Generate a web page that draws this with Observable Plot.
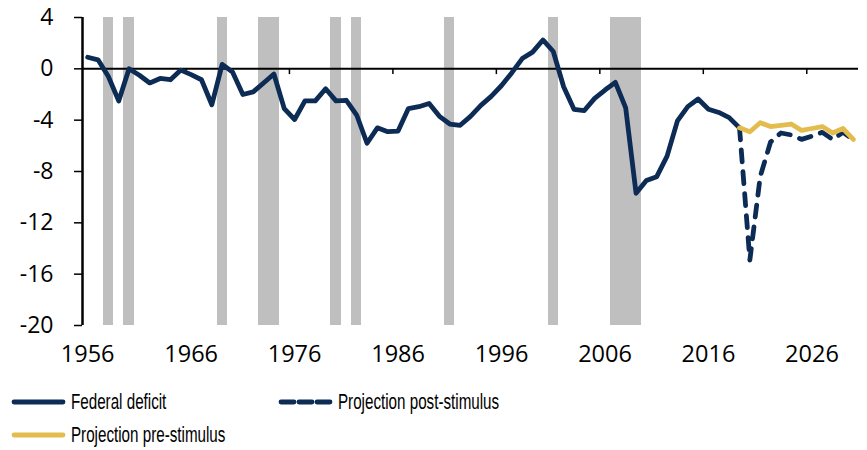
<!DOCTYPE html>
<html><head><meta charset="utf-8">
<script src="https://cdn.jsdelivr.net/npm/d3@7"></script>
<script src="https://cdn.jsdelivr.net/npm/@observablehq/plot@0.6"></script>
<style>
body{margin:0;background:#fff;}
#legend{display:grid;grid-template-columns:267px auto;padding-left:11px;margin-top:10px;font-family:"Liberation Sans","Arial",sans-serif;font-size:22px;color:#000;}
.item{display:flex;align-items:center;height:33px;white-space:nowrap;}
.item svg{margin-right:5px;flex:none;}
.item span{display:inline-block;transform:scaleX(0.69);transform-origin:0 50%;}
</style></head><body><div id="chart"></div><div id="legend"></div>
<script>
const histYears = [1956,1957,1958,1959,1960,1961,1962,1963,1964,1965,1966,1967,1968,1969,1970,1971,1972,1973,1974,1975,1976,1977,1978,1979,1980,1981,1982,1983,1984,1985,1986,1987,1988,1989,1990,1991,1992,1993,1994,1995,1996,1997,1998,1999,2000,2001,2002,2003,2004,2005,2006,2007,2008,2009,2010,2011,2012,2013,2014,2015,2016,2017,2018,2019];
const federalDeficit = [0.9,0.7,-0.6,-2.5,0.0,-0.5,-1.1,-0.75,-0.85,-0.1,-0.45,-0.85,-2.8,0.35,-0.25,-2.0,-1.8,-1.1,-0.4,-3.1,-3.95,-2.5,-2.5,-1.55,-2.5,-2.45,-3.6,-5.8,-4.6,-4.9,-4.85,-3.1,-2.95,-2.7,-3.7,-4.3,-4.4,-3.7,-2.85,-2.15,-1.3,-0.3,0.8,1.3,2.25,1.35,-1.4,-3.15,-3.25,-2.3,-1.65,-1.05,-3.05,-9.7,-8.7,-8.4,-6.8,-4.05,-2.95,-2.35,-3.15,-3.4,-3.8,-4.6];
const projYears = [2019,2020,2021,2022,2023,2024,2025,2026,2027,2028,2029,2030];
const postStimulus = [-4.6,-14.9,-8.4,-5.7,-5.0,-5.15,-5.5,-5.25,-4.95,-5.5,-4.95,-5.5];
const preStimulus = [-4.6,-4.9,-4.2,-4.5,-4.4,-4.3,-4.8,-4.65,-4.5,-5.0,-4.65,-5.5];
const recessionYears = [1958,1960,1969,1973,1974,1980,1982,1991,2001,2007,2008,2009];
const xTickLabels = [1956,1966,1976,1986,1996,2006,2016,2026];
const yTicks = [4,0,-4,-8,-12,-16,-20];
const seriesNames = ["Federal deficit","Projection post-stimulus","Projection pre-stimulus"];

const xDomain = [1955.5, 2030.5];
const yDomain = [-20, 4];
const NAVY = "#0c2b55", GOLD = "#e3bc4e", GREY = "#bfbfbf";
const hist = histYears.map((year, i) => ({year, value: federalDeficit[i]}));
const post = projYears.map((year, i) => ({year, value: postStimulus[i]}));
const pre = projYears.map((year, i) => ({year, value: preStimulus[i]}));
const lineStyle = {strokeWidth: 4.8, strokeLinecap: "round", strokeLinejoin: "round"};

const chart = Plot.plot({
  width: 867, height: 375,
  marginLeft: 82, marginRight: 9, marginTop: 17, marginBottom: 50,
  style: {fontFamily: "'Open Sans', sans-serif", fontSize: "22px", color: "#000", background: "#fff"},
  x: {domain: xDomain, label: null, axis: null},
  y: {domain: yDomain, label: null, axis: null},
  marks: [
    Plot.rect(recessionYears, {x1: d => d - 0.5, x2: d => d + 0.5, y1: yDomain[1], y2: yDomain[0], fill: GREY, shapeRendering: "crispEdges"}),
    Plot.axisX(xTickLabels, {tickSize: 0, tickPadding: 20, tickFormat: d => String(d), fontSize: 23.5, label: null}),
    Plot.axisY(yTicks, {tickSize: 8, tickPadding: 21, tickFormat: d => String(d), fontSize: 23, strokeWidth: 1.5, label: null}),
    Plot.ruleX([xDomain[0]], {y1: yDomain[0], y2: yDomain[1], stroke: "#000", strokeWidth: 2.5}),
    Plot.ruleY([0], {stroke: "#000", strokeWidth: 2}),
    Plot.ruleX(xTickLabels.slice(1), {x: d => d - 0.5, y1: 0, y2: -0.45, stroke: "#000", strokeWidth: 1.5}),
    Plot.line(post, {x: "year", y: "value", stroke: NAVY, strokeDasharray: "12,10", ...lineStyle}),
    Plot.line(hist, {x: "year", y: "value", stroke: NAVY, ...lineStyle}),
    Plot.line(pre, {x: "year", y: "value", stroke: GOLD, ...lineStyle})
  ]
});
document.getElementById("chart").append(chart);

const legendItems = [
  {name: seriesNames[0], color: NAVY, dash: null},
  {name: seriesNames[1], color: NAVY, dash: "13,5"},
  {name: seriesNames[2], color: GOLD, dash: null}
];
const legend = document.getElementById("legend");
for (const it of legendItems) {
  const div = document.createElement("div");
  div.className = "item";
  div.innerHTML = `<svg width="55" height="10"><line x1="3" y1="5" x2="52" y2="5" stroke="${it.color}" stroke-width="4.8" stroke-linecap="round" ${it.dash ? `stroke-dasharray="${it.dash}"` : ""}/></svg><span>${it.name}</span>`;
  legend.append(div);
}
</script>
</body></html>
